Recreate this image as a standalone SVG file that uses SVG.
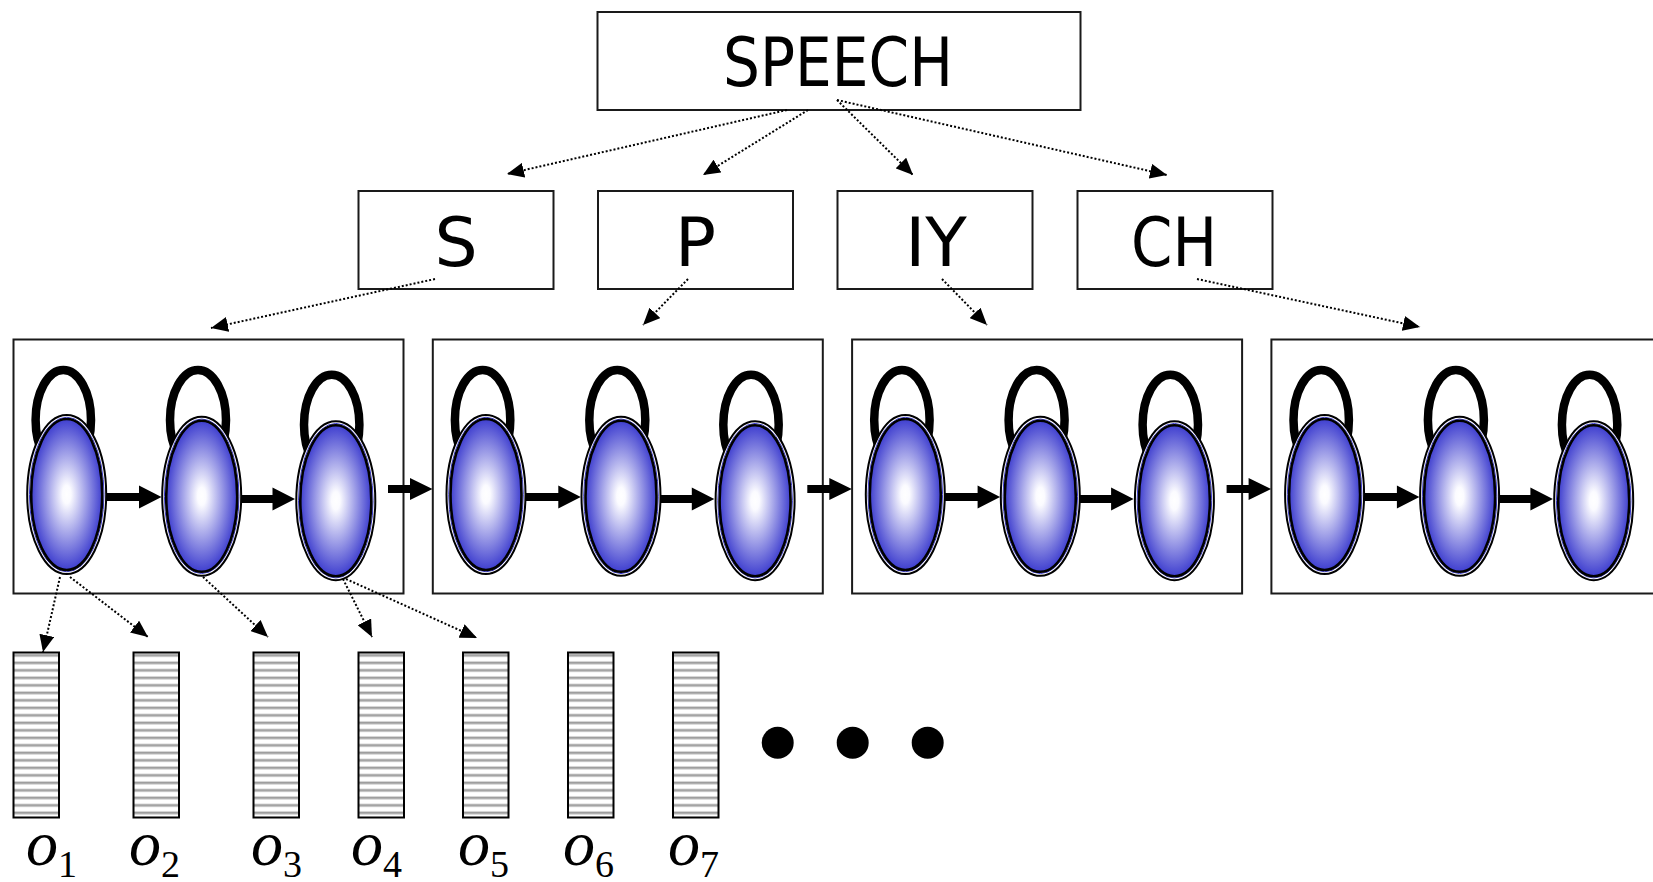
<svg xmlns="http://www.w3.org/2000/svg" xmlns:xlink="http://www.w3.org/1999/xlink" width="1653" height="882" viewBox="0 0 1653 882">
  <style>
    .box { fill: #ffffff; stroke: #1a1a1a; stroke-width: 2; }
    .lbl { font-family: "DejaVu Sans", "Liberation Sans", sans-serif; font-size: 68px; fill: #000; text-anchor: middle; }
    .dot { fill: none; stroke: #000; stroke-width: 2; stroke-dasharray: 2 2; marker-end: url(#tip); }
    .loop { fill: none; stroke: #000; stroke-width: 8.5; }
    .fat { fill: #000; stroke: none; }
    .obs { fill: url(#stripes); stroke: #000; stroke-width: 2; }
    .olbl { font-family: "Liberation Serif", "Times New Roman", serif; font-style: italic; font-size: 64px; fill: #000; }
    .sub { font-style: normal; font-size: 38px; }
  </style>
  <defs>
    <marker id="tip" viewBox="0 0 17 15" refX="17" refY="7.5" markerWidth="17" markerHeight="15" markerUnits="userSpaceOnUse" orient="auto">
      <path d="M0,0 L17,7.5 L0,15 Z" fill="#000"/>
    </marker>
    <radialGradient id="glow" cx="0.5" cy="0.5" r="0.5">
      <stop offset="0" stop-color="#ffffff"/>
      <stop offset="0.12" stop-color="#fbfbff"/>
      <stop offset="1" stop-color="#3f3fcf"/>
    </radialGradient>
    <pattern id="stripes" patternUnits="userSpaceOnUse" x="0" y="652.5" width="60" height="7.5">
      <rect x="0" y="0" width="60" height="7.5" fill="#ffffff"/>
      <rect x="0" y="1" width="60" height="1" fill="#dadada"/>
      <rect x="0" y="2" width="60" height="1.6" fill="#8e8e8e"/>
      <rect x="0" y="3.6" width="60" height="1" fill="#cacaca"/>
    </pattern>
    <!-- HMM state: double outline with a blue-to-white glow -->
    <g id="state">
      <ellipse rx="39.5" ry="79.5" fill="#ffffff" stroke="#000" stroke-width="2"/>
      <ellipse rx="37.3" ry="77.3" fill="none" stroke="#3a3ad0" stroke-width="1"/>
      <ellipse rx="35.5" ry="75.5" fill="url(#glow)" stroke="#000" stroke-width="2.6"/>
    </g>
  </defs>

  <rect width="1653" height="882" fill="#ffffff"/>

  <!-- word and phone nodes -->
  <g id="word-speech">
    <rect class="box" x="597.5" y="12" width="483" height="98"/>
    <text class="lbl" x="838" y="86" textLength="230" lengthAdjust="spacingAndGlyphs">SPEECH</text>
  </g>
  <g id="phone-s">
    <rect class="box" x="358.5" y="191" width="195" height="98"/>
    <text class="lbl" x="456" y="265.5">S</text>
  </g>
  <g id="phone-p">
    <rect class="box" x="598" y="191" width="195" height="98"/>
    <text class="lbl" x="695.5" y="265.5">P</text>
  </g>
  <g id="phone-iy">
    <rect class="box" x="837.5" y="191" width="195" height="98"/>
    <text class="lbl" x="936" y="265.5">IY</text>
  </g>
  <g id="phone-ch">
    <rect class="box" x="1077.5" y="191" width="195" height="98"/>
    <text class="lbl" x="1174" y="265.5" textLength="86" lengthAdjust="spacingAndGlyphs">CH</text>
  </g>

  <!-- phone HMM frames -->
  <g id="hmm-s"><rect class="box" x="13.5" y="339.5" width="390" height="254"/></g>
  <g id="hmm-p"><rect class="box" x="432.8" y="339.5" width="390" height="254"/></g>
  <g id="hmm-iy"><rect class="box" x="852.1" y="339.5" width="390" height="254"/></g>
  <g id="hmm-ch"><rect class="box" x="1271.4" y="339.5" width="390" height="254"/></g>

  <!-- connectors -->
  <g id="connectors">
    <!-- self loops and left-to-right transitions, repeated per phone model -->
    <g id="hmm-edges-s">
      <ellipse class="loop" cx="63.3" cy="420" rx="27.7" ry="50"/>
      <ellipse class="loop" cx="198" cy="420" rx="28" ry="50"/>
      <ellipse class="loop" cx="331.7" cy="424.7" rx="27.7" ry="50"/>
    </g>
    <use xlink:href="#hmm-edges-s" transform="translate(419.3,0)"/>
    <use xlink:href="#hmm-edges-s" transform="translate(838.6,0)"/>
    <use xlink:href="#hmm-edges-s" transform="translate(1257.9,0)"/>

    <g id="trans-s">
      <path class="fat" d="M106,493 H139 V485.5 L161.5,497 L139,508.5 V501 H106 Z"/>
      <path class="fat" d="M241,495 H272.5 V487.5 L295,499 L272.5,510.5 V503 H241 Z"/>
    </g>
    <use xlink:href="#trans-s" transform="translate(419.3,0)"/>
    <use xlink:href="#trans-s" transform="translate(838.6,0)"/>
    <use xlink:href="#trans-s" transform="translate(1257.9,0)"/>

    <!-- phone-to-phone links -->
    <g id="link-sp"><path class="fat" d="M388,485 H410 V478 L432.5,489 L410,500 V493 H388 Z"/></g>
    <use xlink:href="#link-sp" transform="translate(419.3,0)"/>
    <use xlink:href="#link-sp" transform="translate(838.6,0)"/>

    <!-- word to phones -->
    <line class="dot" x1="787" y1="110" x2="507" y2="174"/>
    <line class="dot" x1="808" y1="110" x2="703" y2="175"/>
    <line class="dot" x1="837" y1="100" x2="913" y2="175"/>
    <line class="dot" x1="837" y1="100" x2="1167" y2="175"/>

    <!-- phones to models -->
    <line class="dot" x1="435" y1="279" x2="211" y2="328"/>
    <line class="dot" x1="688" y1="279" x2="643" y2="325"/>
    <line class="dot" x1="942" y1="279" x2="987" y2="325"/>
    <line class="dot" x1="1197" y1="279" x2="1420" y2="327"/>

    <!-- states to observation frames -->
    <line class="dot" x1="60" y1="577" x2="43" y2="652"/>
    <line class="dot" x1="70" y1="577" x2="148" y2="637"/>
    <line class="dot" x1="203" y1="577" x2="268" y2="637"/>
    <line class="dot" x1="343" y1="579" x2="372" y2="637"/>
    <line class="dot" x1="346" y1="579" x2="477" y2="638"/>
  </g>

  <!-- HMM states -->
  <g id="s-1"><use xlink:href="#state" x="66.7" y="494.5"/></g>
  <g id="s-2"><use xlink:href="#state" x="201.7" y="496.3"/></g>
  <g id="s-3"><use xlink:href="#state" x="335.8" y="500.7"/></g>
  <g id="p-1"><use xlink:href="#state" x="486" y="494.5"/></g>
  <g id="p-2"><use xlink:href="#state" x="621" y="496.3"/></g>
  <g id="p-3"><use xlink:href="#state" x="755.1" y="500.7"/></g>
  <g id="iy-1"><use xlink:href="#state" x="905.3" y="494.5"/></g>
  <g id="iy-2"><use xlink:href="#state" x="1040.3" y="496.3"/></g>
  <g id="iy-3"><use xlink:href="#state" x="1174.4" y="500.7"/></g>
  <g id="ch-1"><use xlink:href="#state" x="1324.6" y="494.5"/></g>
  <g id="ch-2"><use xlink:href="#state" x="1459.6" y="496.3"/></g>
  <g id="ch-3"><use xlink:href="#state" x="1593.7" y="500.7"/></g>

  <!-- observation frames -->
  <g id="obs-1"><rect class="obs" x="13.5" y="652.5" width="45.5" height="165"/>
    <text class="olbl" x="26" y="865">o<tspan class="sub" dy="12">1</tspan></text></g>
  <g id="obs-2"><rect class="obs" x="133.5" y="652.5" width="45.5" height="165"/>
    <text class="olbl" x="129" y="865">o<tspan class="sub" dy="12">2</tspan></text></g>
  <g id="obs-3"><rect class="obs" x="253.5" y="652.5" width="45.5" height="165"/>
    <text class="olbl" x="251" y="865">o<tspan class="sub" dy="12">3</tspan></text></g>
  <g id="obs-4"><rect class="obs" x="358.5" y="652.5" width="45.5" height="165"/>
    <text class="olbl" x="351" y="865">o<tspan class="sub" dy="12">4</tspan></text></g>
  <g id="obs-5"><rect class="obs" x="463" y="652.5" width="45.5" height="165"/>
    <text class="olbl" x="458" y="865">o<tspan class="sub" dy="12">5</tspan></text></g>
  <g id="obs-6"><rect class="obs" x="568" y="652.5" width="45.5" height="165"/>
    <text class="olbl" x="563" y="865">o<tspan class="sub" dy="12">6</tspan></text></g>
  <g id="obs-7"><rect class="obs" x="673" y="652.5" width="45.5" height="165"/>
    <text class="olbl" x="668" y="865">o<tspan class="sub" dy="12">7</tspan></text></g>

  <!-- continuation -->
  <g id="ellipsis">
    <circle cx="777.7" cy="742.7" r="16"/>
    <circle cx="852.7" cy="742.7" r="16"/>
    <circle cx="927.7" cy="742.7" r="16"/>
  </g>
</svg>
